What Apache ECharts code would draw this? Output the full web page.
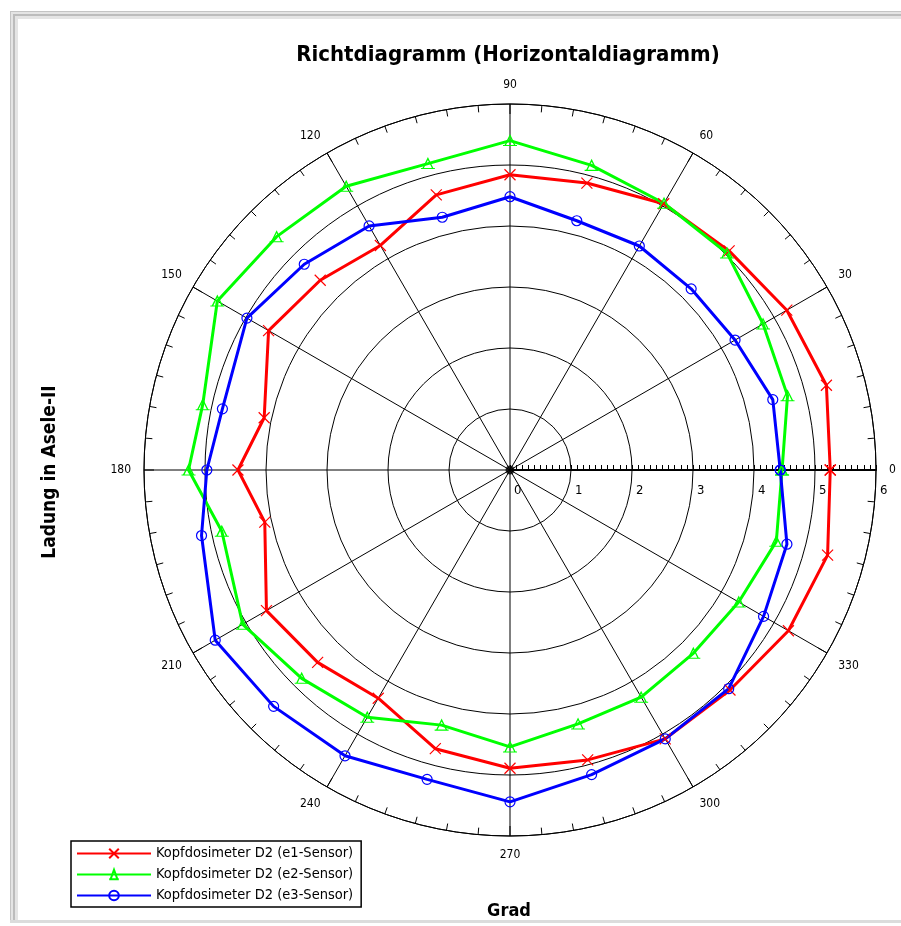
<!DOCTYPE html>
<html>
<head>
<meta charset="utf-8">
<title>Richtdiagramm</title>
<script src="https://cdn.jsdelivr.net/npm/echarts@6/dist/echarts.min.js"></script>
<style>
  html, body { margin: 0; padding: 0; background: #fff; }
  #chart { width: 901px; height: 926px; }
</style>
</head>
<body>
<div id="chart"></div>
<script>
// Measurement directions in degrees (counter-clockwise, 0 = right)
const angles = [0, 15, 30, 45, 60, 75, 90, 105, 120, 135, 150, 168,
                180, 192, 210, 225, 240, 255, 270, 285, 300, 315, 330, 345];

// Readings of the three head dosimeter sensors
const sensorE1 = [5.25, 5.37, 5.24, 5.08, 5.04, 4.87, 4.84, 4.67, 4.25, 4.40, 4.57, 4.12,
                  4.46, 4.11, 4.61, 4.46, 4.32, 4.73, 4.89, 4.92, 5.09, 5.10, 5.27, 5.39];
const sensorE2 = [4.46, 4.71, 4.79, 5.03, 5.05, 5.17, 5.40, 5.20, 5.37, 5.41, 5.54, 5.15,
                  5.27, 4.83, 5.06, 4.83, 4.68, 4.33, 4.54, 4.31, 4.30, 4.25, 4.33, 4.52];
const sensorE3 = [4.43, 4.46, 4.26, 4.20, 4.24, 4.23, 4.48, 4.29, 4.62, 4.77, 4.98, 4.82,
                  4.97, 5.17, 5.58, 5.48, 5.41, 5.25, 5.44, 5.17, 5.09, 5.07, 4.80, 4.70];

const seriesNames = [
  'Kopfdosimeter D2 (e1-Sensor)',
  'Kopfdosimeter D2 (e2-Sensor)',
  'Kopfdosimeter D2 (e3-Sensor)'
];

const titleText = 'Richtdiagramm (Horizontaldiagramm)';
const radiusName = 'Ladung in Asele-II';
const angleName = 'Grad';

const FONT = "'Liberation Sans Narrow', 'DejaVu Sans Condensed', 'Liberation Sans', sans-serif";

// Build a closed polygon [radius, angle] list from a value array
function closedLoop(values) {
  const pts = values.map((v, i) => [v, angles[i]]);
  pts.push([values[0], 360]);
  return pts;
}

const markerCross = 'path://M0,0L10,10M0,10L10,0';
const markerTriangle = 'path://M0,10L14,10M2,10L7,0L12,10';

function sensorSeries(name, values, color, symbol, size) {
  return {
    type: 'line',
    name: name,
    coordinateSystem: 'polar',
    data: closedLoop(values),
    symbol: symbol,
    symbolSize: size,
    showAllSymbol: true,
    lineStyle: { color: color, width: 3 },
    itemStyle: { color: 'rgba(255,255,255,0)', borderColor: color, borderWidth: 1.2 },
    emphasis: { disabled: true },
    z: 3
  };
}

const chart = echarts.init(document.getElementById('chart'), null, { renderer: 'canvas' });

chart.setOption({
  animation: false,
  backgroundColor: '#ffffff',
  polar: { center: [510, 470], radius: 366 },
  angleAxis: {
    type: 'value',
    min: 0,
    max: 360,
    interval: 30,
    startAngle: 0,
    clockwise: false,
    axisLine: { show: true, lineStyle: { color: '#000', width: 1 } },
    axisTick: { show: true, inside: true, length: 10, lineStyle: { color: '#000', width: 1 } },
    minorTick: { show: true, splitNumber: 6, length: 7, lineStyle: { color: '#000', width: 1 } },
    axisLabel: { show: true, color: '#000', fontSize: 12, fontFamily: FONT, margin: 13 },
    splitLine: { show: true, lineStyle: { color: '#000', width: 1 } },
    minorSplitLine: { show: false }
  },
  radiusAxis: {
    type: 'value',
    min: 0,
    max: 6,
    interval: 1,
    axisLine: { show: true, lineStyle: { color: '#000', width: 2 } },
    axisTick: { show: true, inside: true, length: 5, lineStyle: { color: '#000', width: 1 } },
    minorTick: { show: true, splitNumber: 10, length: 5, lineStyle: { color: '#000', width: 1 } },
    // labels sit below the scale line, ticks above it
    axisLabel: { show: true, color: '#000', fontSize: 13, fontFamily: FONT, margin: -27, align: 'left', padding: [0, 0, 0, 4] },
    splitLine: { show: true, lineStyle: { color: '#000', width: 1 } }
  },
  legend: {
    orient: 'vertical',
    left: 71,
    top: 841,
    data: seriesNames,
    itemWidth: 74,
    itemHeight: 12,
    itemGap: 6,
    padding: [5, 8, 4, 5],
    borderColor: '#000',
    borderWidth: 1.5,
    borderRadius: 0,
    backgroundColor: '#fff',
    selectedMode: false,
    textStyle: { color: '#000', fontSize: 14.5, fontFamily: FONT }
  },
  graphic: [
    // window frame
    { type: 'rect', shape: { x: 10, y: 11, width: 891, height: 8 }, style: { fill: '#e4e4e4' }, silent: true },
    { type: 'rect', shape: { x: 10, y: 11, width: 8, height: 912 }, style: { fill: '#e4e4e4' }, silent: true },
    { type: 'rect', shape: { x: 10, y: 11, width: 891, height: 1 }, style: { fill: '#c4c4c4' }, silent: true },
    { type: 'rect', shape: { x: 10, y: 11, width: 1, height: 912 }, style: { fill: '#c4c4c4' }, silent: true },
    { type: 'rect', shape: { x: 13, y: 14, width: 888, height: 2 }, style: { fill: '#bcbcbc' }, silent: true },
    { type: 'rect', shape: { x: 13, y: 14, width: 2, height: 909 }, style: { fill: '#bcbcbc' }, silent: true },
    { type: 'rect', shape: { x: 10, y: 920, width: 891, height: 3 }, style: { fill: '#dcdcdc' }, silent: true },
    {
      type: 'text', x: 508, y: 55, silent: true,
      style: { text: titleText, font: 'bold 22px ' + FONT, fill: '#000', textAlign: 'center', textVerticalAlign: 'middle' }
    },
    {
      type: 'text', x: 50, y: 472, rotation: Math.PI / 2, silent: true,
      style: { text: radiusName, font: 'bold 19px ' + FONT, fill: '#000', textAlign: 'center', textVerticalAlign: 'middle' }
    },
    {
      type: 'text', x: 509, y: 911, silent: true,
      style: { text: angleName, font: 'bold 18px ' + FONT, fill: '#000', textAlign: 'center', textVerticalAlign: 'middle' }
    }
  ],
  series: [
    sensorSeries(seriesNames[0], sensorE1, '#ff0000', markerCross, 11),
    sensorSeries(seriesNames[1], sensorE2, '#00ff00', markerTriangle, [14, 10]),
    sensorSeries(seriesNames[2], sensorE3, '#0000ff', 'circle', 10),
    {
      type: 'scatter',
      coordinateSystem: 'polar',
      data: [[0, 0]],
      symbol: 'circle',
      symbolSize: 9,
      itemStyle: { color: '#000' },
      silent: true,
      z: 5
    }
  ]
});
</script>
</body>
</html>
